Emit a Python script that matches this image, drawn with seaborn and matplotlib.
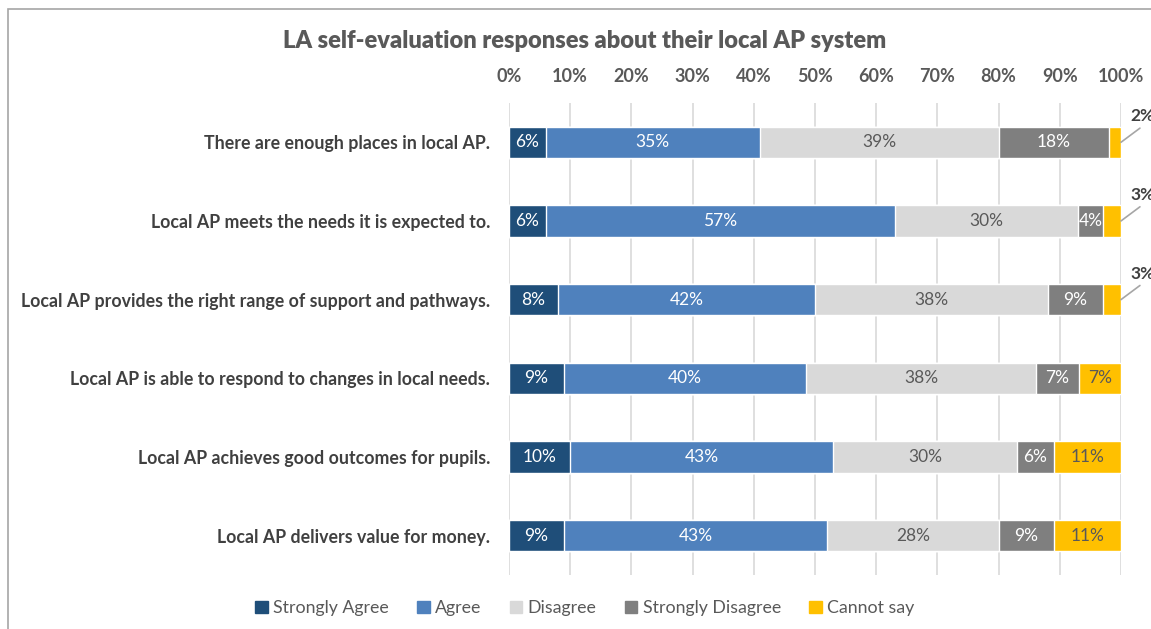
import numpy as np
import pandas as pd
import matplotlib.pyplot as plt
import seaborn as sns

# Datos (porcentajes)
statements = [
    "There are enough places in local AP.",
    "Local AP meets the needs it is expected to.",
    "Local AP provides the right range of support and pathways.",
    "Local AP is able to respond to changes in local needs.",
    "Local AP achieves good outcomes for pupils.",
    "Local AP delivers value for money.",
]
responses = ["Strongly Agree", "Agree", "Disagree", "Strongly Disagree", "Cannot say"]
strongly_agree = [6, 6, 8, 9, 10, 9]
agree = [35, 57, 42, 40, 43, 43]
disagree = [39, 30, 38, 38, 30, 28]
strongly_disagree = [18, 4, 9, 7, 6, 9]
cannot_say = [2, 3, 3, 7, 11, 11]

colors = ["#1f4e79", "#4f81bd", "#d9d9d9", "#7f7f7f", "#ffc000"]
label_colors = ["white", "white", "#595959", "white", "#595959"]
grey = "#595959"

df = pd.DataFrame({
    "Statement": statements,
    "Strongly Agree": strongly_agree,
    "Agree": agree,
    "Disagree": disagree,
    "Strongly Disagree": strongly_disagree,
    "Cannot say": cannot_say,
})

# 100% apilado: normalizar cada fila
pct = df[responses].div(df[responses].sum(axis=1), axis=0) * 100
cum = pct.cumsum(axis=1)

sns.set_style("white")
plt.rcParams["font.family"] = ["Lato", "DejaVu Sans"]

fig = plt.figure(figsize=(11.51, 6.29), dpi=100)
ax = fig.add_axes([0.4422, 0.0859, 0.5317, 0.7504])

# dibujar de la capa acumulada mayor a la menor
for i in range(len(responses) - 1, -1, -1):
    sns.barplot(x=cum[responses[i]], y=df["Statement"], color=colors[i],
                orient="h", width=0.4, ax=ax, zorder=3, saturation=1)

# etiquetas de datos
for r in range(len(statements)):
    for i, resp in enumerate(responses):
        val = df.loc[r, resp]
        end = cum.loc[r, resp]
        start = end - pct.loc[r, resp]
        if resp == "Cannot say" and val <= 3:
            ax.plot([100, 103.1], [r, r - 0.18], color="#a6a6a6", lw=1.2,
                    clip_on=False, zorder=4)
            ax.text(101.6, r - 0.33, f"{val}%", ha="left", va="center",
                    fontsize=12.5, fontweight="bold", color="#404040", clip_on=False)
        else:
            ax.text((start + end) / 2, r, f"{val}%", ha="center", va="center",
                    fontsize=12.5, color=label_colors[i], zorder=5)

ax.set_xlim(0, 100)
ax.set_ylim(5.5, -0.5)
ax.set_xticks(np.arange(0, 101, 10))
ax.set_xticklabels([f"{t}%" for t in range(0, 101, 10)])
ax.xaxis.tick_top()
ax.tick_params(axis="x", length=0, pad=13, labelsize=13, labelcolor=grey)
ax.tick_params(axis="y", length=0, pad=13.5, labelsize=12.8, labelcolor="#404040")
for lab in ax.get_xticklabels() + ax.get_yticklabels():
    lab.set_fontweight("bold")
ax.grid(axis="x", color="#d9d9d9", lw=1.2, zorder=0)
ax.set_axisbelow(True)
for s in ax.spines.values():
    s.set_visible(False)
ax.set_xlabel("")
ax.set_ylabel("")

fig.text(0.508, 0.935, "LA self-evaluation responses about their local AP system",
         ha="center", va="center", fontsize=17, fontweight="heavy", color=grey)

handles = [plt.Rectangle((0, 0), 1, 1, color=c) for c in colors]
fig.legend(handles, responses, loc="center", bbox_to_anchor=(0.508, 0.033), ncol=5,
           frameon=False, fontsize=12.8, labelcolor=grey, handlelength=0.7,
           handleheight=0.7, handletextpad=0.3, columnspacing=1.6)

# marco del gráfico
fig.patches.append(plt.Rectangle((0.007, -0.01), 1.1, 0.9957, transform=fig.transFigure,
                                 fill=False, edgecolor="#a6a6a6", lw=1.2))

fig.savefig("out.png", dpi=100)
